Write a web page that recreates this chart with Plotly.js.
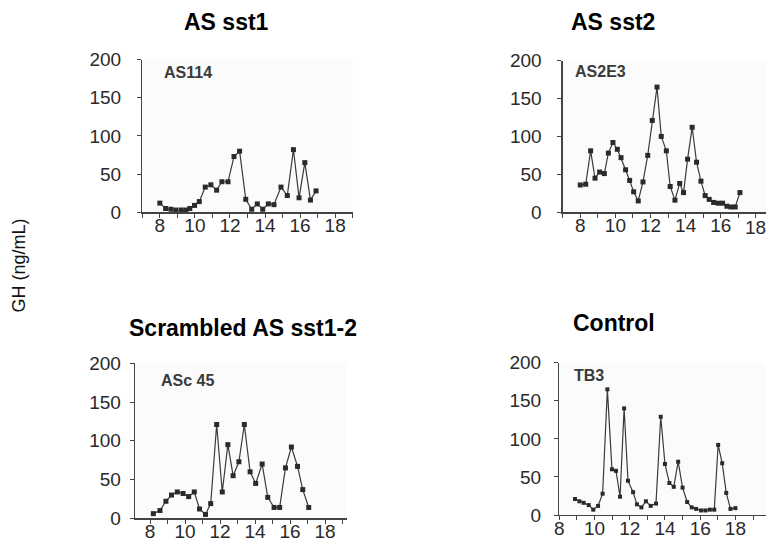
<!DOCTYPE html>
<html>
<head>
<meta charset="utf-8">
<script src="https://cdn.plot.ly/plotly-3.0.1.min.js"></script>
<style>html,body{margin:0;padding:0;background:#fff;overflow:hidden;width:766px;height:542px;}#chart{width:790px;height:542px;}</style>
</head>
<body>
<div id="chart"></div>
<script>
// Panel titles and animal labels
const panelTitles = ["AS sst1", "AS sst2", "Scrambled AS sst1-2", "Control"];
const animalLabels = ["AS114", "AS2E3", "ASc 45", "TB3"];
const yTitle = "GH (ng/mL)";
const yTicks = [0, 50, 100, 150, 200];
const xTicks = [8, 10, 12, 14, 16, 18];

// AS sst1 (AS114): time of day (h), GH (ng/mL)
const timeAS114 = [8.0,8.33,8.63,8.91,9.22,9.49,9.71,9.98,10.25,10.59,10.91,11.24,11.54,11.89,12.23,12.55,12.9,13.24,13.56,13.87,14.19,14.51,14.91,15.27,15.62,15.94,16.27,16.59,16.91];
const ghAS114   = [12,5,4,3,3,3,5,9,14,33,36,29,40,40,73,80,17,4,11,4,11,10,33,22,82,19,65,16,28];

// AS sst2 (AS2E3)
const timeAS2E3 = [8.0,8.31,8.59,8.84,9.1,9.37,9.6,9.86,10.11,10.32,10.58,10.81,11.04,11.3,11.57,11.84,12.1,12.37,12.61,12.9,13.12,13.39,13.66,13.88,14.11,14.37,14.62,14.87,15.11,15.34,15.59,15.85,16.1,16.35,16.58,16.82,17.09];
const ghAS2E3   = [36,37,81,45,53,51,78,92,83,72,56,42,27,15,40,75,121,165,100,81,34,16,38,26,70,112,66,41,22,17,13,12,12,8,7,7,26];

// Scrambled AS sst1-2 (ASc 45)
const timeASc45 = [8.19,8.57,8.91,9.23,9.56,9.89,10.21,10.53,10.83,11.17,11.47,11.81,12.13,12.45,12.75,13.08,13.39,13.72,14.04,14.41,14.73,15.09,15.41,15.74,16.08,16.43,16.73,17.07];
const ghASc45   = [6,10,22,30,34,32,28,34,12,5,19,121,34,95,55,73,121,60,45,70,27,14,14,65,92,67,37,14];

// Control (TB3)
const timeTB3 = [8.89,9.14,9.38,9.67,9.93,10.2,10.46,10.73,10.99,11.22,11.45,11.68,11.9,12.19,12.41,12.66,12.92,13.19,13.49,13.76,14.0,14.25,14.5,14.75,15.0,15.26,15.52,15.77,16.05,16.3,16.55,16.8,17.02,17.25,17.48,17.72,18.0];
const ghTB3   = [21,18,16,13,7,12,28,165,60,58,24,140,45,30,14,10,18,12,15,129,67,42,37,70,36,17,10,8,6,6,7,7,92,68,29,8,9];

// the figure is drawn a little wider than the 766px window so the right-hand axes run off the edge as in the original
const W = 790, H = 542;
const px = v => v / W;
const py = v => 1 - v / H;

const series = [
  {x: timeAS114, y: ghAS114, ms: 5},
  {x: timeAS2E3, y: ghAS2E3, ms: 5},
  {x: timeASc45, y: ghASc45, ms: 5},
  {x: timeTB3, y: ghTB3, ms: 4}
];

// geometry in pixels: left, right, bottom(y=0), top(y=200), x range, y-label standoff
const geom = [
  {l: 142.3, r: 352.7, b: 212.3, t: 59.5, xr: [7, 19], so: 12},
  {l: 562.7, r: 790, b: 212.3, t: 60.5, xr: [7, 19.94], so: 12},
  {l: 135, r: 346.7, b: 518.3, t: 363.3, xr: [7.143, 19.24], so: 5},
  {l: 559.3, r: 790, b: 515, t: 362.7, xr: [8, 21.1], so: 9}
];

const lineCol = '#3a3a3a';
const tickFont = {family: 'Liberation Sans, Arial, sans-serif', size: 19, color: '#2a2a2a'};

const traces = series.map((s, i) => ({
  type: 'scatter', mode: 'lines+markers',
  x: s.x, y: s.y,
  xaxis: i === 0 ? 'x' : 'x' + (i + 1),
  yaxis: i === 0 ? 'y' : 'y' + (i + 1),
  line: {color: lineCol, width: 1.2},
  marker: {symbol: 'square', size: s.ms, color: '#2a2a2a'},
  cliponaxis: false,
  showlegend: false,
  hoverinfo: 'skip'
}));

const layout = {
  width: W, height: H, autosize: false,
  margin: {l: 0, r: 0, t: 0, b: 0},
  paper_bgcolor: '#ffffff', plot_bgcolor: '#fbfbfb',
  showlegend: false,
  annotations: []
};

geom.forEach((g, i) => {
  const xk = i === 0 ? 'xaxis' : 'xaxis' + (i + 1);
  const yk = i === 0 ? 'yaxis' : 'yaxis' + (i + 1);
  const yref = i === 0 ? 'y' : 'y' + (i + 1);
  // panel 2's last label (at the window edge) is drawn as an axis-referenced annotation below
  const tv = i === 1 ? xTicks.slice(0, -1) : xTicks;
  layout[xk] = {
    domain: [px(g.l), Math.min(1, px(g.r))],
    range: g.xr, anchor: yref,
    tickmode: 'array', tickvals: tv, ticktext: tv.map(String),
    ticks: 'outside', ticklen: 4, tickwidth: 1, tickcolor: '#444',
    ticklabelstandoff: -8, ticklabeloverflow: 'allow',
    minor: {tickmode: 'linear', tick0: 7, dtick: 1, ticks: 'outside', ticklen: 4, tickcolor: '#444'},
    showline: true, linecolor: '#444', linewidth: 1.3,
    showgrid: false, zeroline: false, fixedrange: true,
    tickfont: tickFont
  };
  layout[yk] = {
    domain: [py(g.b), py(g.t)],
    range: [0, 200], anchor: i === 0 ? 'x' : 'x' + (i + 1),
    tickmode: 'array', tickvals: yTicks, ticktext: yTicks.map(String),
    ticks: 'outside', ticklen: 4, tickwidth: 1, tickcolor: '#444',
    ticklabelstandoff: g.so, ticklabeloverflow: 'allow',
    showline: true, linecolor: '#444', linewidth: 1.3,
    showgrid: false, zeroline: false, fixedrange: true,
    tickfont: tickFont
  };
});

// last x tick label of the AS sst2 panel, placed on its own x axis
const lastTick = xTicks[xTicks.length - 1];
layout.annotations.push({
  text: String(lastTick), xref: 'x2', yref: 'paper', x: lastTick, y: py(227),
  xanchor: 'center', yanchor: 'middle', showarrow: false, font: tickFont
});

// panel titles
const titlePos = [[227, 22], [613, 22], [243, 328], [614, 323]];
panelTitles.forEach((t, i) => {
  layout.annotations.push({
    text: '<b>' + t + '</b>', xref: 'paper', yref: 'paper',
    x: px(titlePos[i][0]), y: py(titlePos[i][1]), xanchor: 'center', yanchor: 'middle',
    showarrow: false, font: {family: 'Liberation Sans, Arial, sans-serif', size: 23, color: '#000'}
  });
});

// animal labels
const labelPos = [[188, 72.5], [600, 71], [187.5, 380.5], [589, 375]];
animalLabels.forEach((t, i) => {
  layout.annotations.push({
    text: '<b>' + t + '</b>', xref: 'paper', yref: 'paper',
    x: px(labelPos[i][0]), y: py(labelPos[i][1]), xanchor: 'center', yanchor: 'middle',
    showarrow: false, font: {family: 'Liberation Sans, Arial, sans-serif', size: 16, color: '#3a3a3a'}
  });
});

// shared y title
layout.annotations.push({
  text: yTitle, xref: 'paper', yref: 'paper',
  x: px(18.5), y: py(266), xanchor: 'center', yanchor: 'middle', textangle: -90,
  showarrow: false, font: {family: 'Liberation Sans, Arial, sans-serif', size: 18, color: '#111'}
});

Plotly.newPlot('chart', traces, layout, {staticPlot: true, displayModeBar: false});
</script>
</body>
</html>
